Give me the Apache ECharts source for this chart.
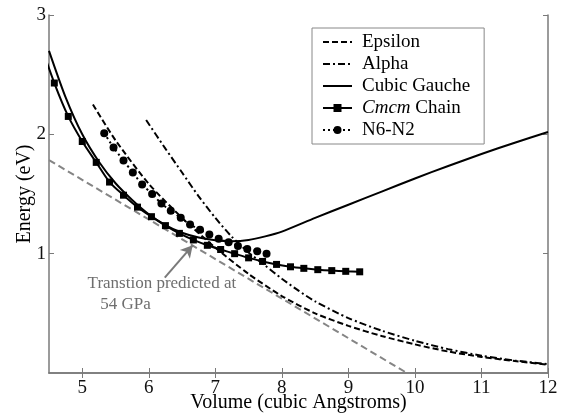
<!DOCTYPE html>
<html>
<head>
<meta charset="utf-8">
<script src="https://cdn.jsdelivr.net/npm/echarts@6/dist/echarts.min.js"></script>
<style>
  html, body { margin: 0; padding: 0; background: #fff; }
  #chart { width: 561px; height: 414px; }
</style>
</head>
<body>
<div id="chart"></div>
<script>
// tick labels
var xTicks = [5, 6, 7, 8, 9, 10, 11, 12]
var yTicks = [1, 2, 3]

// Epsilon
var epsVol = [5.16, 5.5, 6.0, 6.5, 7.0, 7.5, 8.0, 8.5, 9.0, 9.5, 10.0, 10.5, 11.0, 11.5, 12.0]
var epsEnergy = [2.25, 1.95, 1.585, 1.30, 1.05, 0.83, 0.645, 0.50, 0.395, 0.31, 0.24, 0.18, 0.135, 0.10, 0.07]

// Alpha
var alphaVol = [5.96, 6.25, 6.5, 6.75, 7.0, 7.25, 7.5, 7.75, 8.0, 8.25, 8.5, 9.0, 9.5, 10.0, 10.5, 11.0, 11.5, 12.0]
var alphaEnergy = [2.12, 1.88, 1.68, 1.48, 1.30, 1.14, 1.01, 0.90, 0.79, 0.69, 0.60, 0.46, 0.355, 0.27, 0.20, 0.145, 0.105, 0.075]

// Cubic Gauche
var gaucheVol = [4.5, 4.75, 5.0, 5.25, 5.5, 5.75, 6.0, 6.25, 6.5, 6.75, 7.0, 7.25, 7.5, 7.75, 8.0, 8.5, 9.0, 9.5, 10.0, 10.5, 11.0, 11.5, 12.0]
var gaucheEnergy = [2.70, 2.31, 2.0, 1.77, 1.59, 1.45, 1.33, 1.24, 1.175, 1.135, 1.112, 1.105, 1.115, 1.145, 1.185, 1.30, 1.41, 1.52, 1.63, 1.735, 1.835, 1.93, 2.02]

// Cmcm Chain
var cmcmVol = [4.37, 4.58, 4.79, 5.0, 5.21, 5.41, 5.62, 5.83, 6.04, 6.25, 6.46, 6.67, 6.88, 7.08, 7.29, 7.5, 7.71, 7.92, 8.13, 8.33, 8.54, 8.75, 8.96, 9.17]
var cmcmEnergy = [2.76, 2.43, 2.15, 1.94, 1.765, 1.60, 1.49, 1.39, 1.31, 1.235, 1.17, 1.115, 1.07, 1.035, 1.0, 0.965, 0.935, 0.91, 0.89, 0.877, 0.866, 0.858, 0.852, 0.848]

// N6-N2
var n6Vol = [5.33, 5.47, 5.62, 5.76, 5.90, 6.05, 6.19, 6.33, 6.48, 6.62, 6.77, 6.91, 7.05, 7.20, 7.34, 7.48, 7.63, 7.77]
var n6Energy = [2.01, 1.89, 1.78, 1.68, 1.58, 1.50, 1.42, 1.36, 1.30, 1.245, 1.20, 1.16, 1.125, 1.095, 1.065, 1.04, 1.02, 1.0]

// common tangent
var tangentVol = [4.5, 9.88]
var tangentEnergy = [1.784, 0]

// annotation
var noteText = 'Transtion predicted at\n   54 GPa'
var notePos = [5.08, 0.66]
var arrowFrom = [6.24, 0.80]
var arrowTo = [6.66, 1.07]

var FONT = '"Liberation Serif", "DejaVu Serif", serif'

function zip(xs, ys) {
  var out = []
  for (var i = 0; i < xs.length; i++) {
    out.push([xs[i], ys[i]])
  }
  return out
}

function lineSeries(name, xs, ys, dash, symbol, size) {
  return {
    name: name,
    type: 'line',
    data: zip(xs, ys),
    smooth: 0.25,
    symbol: symbol || 'none',
    symbolSize: size || 0,
    showSymbol: !!symbol,
    clip: true,
    animation: false,
    itemStyle: { color: '#000' },
    lineStyle: { color: '#000', width: 2, type: dash }
  }
}

// legend entries without a marker
var noMarker = { color: 'rgba(0,0,0,0)', borderWidth: 0 }

var chart = echarts.init(document.getElementById('chart'))

chart.setOption({
  backgroundColor: '#fff',
  animation: false,
  grid: { left: 49, right: 13, top: 15, bottom: 41, outerBoundsMode: 'none', containLabel: false },
  legend: {
    data: [
      { name: 'Epsilon', itemStyle: noMarker },
      { name: 'Alpha', itemStyle: noMarker },
      { name: 'Cubic Gauche', itemStyle: noMarker },
      { name: 'Cmcm Chain' },
      { name: 'N6-N2' }
    ],
    orient: 'vertical',
    left: 312,
    top: 28,
    padding: [3, 14, 3, 10],
    itemGap: 0,
    itemWidth: 29,
    itemHeight: 10,
    borderColor: '#888',
    borderWidth: 1,
    backgroundColor: '#fff',
    formatter: function(name) {
      return name === 'Cmcm Chain' ? '{i|Cmcm} Chain' : name
    },
    textStyle: {
      fontFamily: FONT,
      fontSize: 19,
      lineHeight: 22,
      color: '#000',
      padding: [0, 0, 0, 5],
      rich: {
        i: { fontFamily: FONT, fontSize: 19, fontStyle: 'italic', color: '#000' }
      }
    }
  },
  xAxis: [{
    type: 'value',
    min: 4.5,
    max: 12,
    name: 'Volume (cubic Angstroms)',
    nameLocation: 'middle',
    nameGap: 20,
    nameMoveOverlap: false,
    nameTextStyle: { fontFamily: FONT, fontSize: 20, color: '#000' },
    axisLine: { lineStyle: { color: '#7a7a7a', width: 1.5 } },
    axisTick: { inside: true, length: 5, customValues: xTicks, lineStyle: { color: '#7a7a7a' } },
    axisLabel: { customValues: xTicks, fontFamily: FONT, fontSize: 19, color: '#111', margin: 6 },
    splitLine: { show: false }
  }, {
    type: 'value',
    position: 'top',
    min: 4.5,
    max: 12,
    axisLine: { show: true, lineStyle: { color: '#7a7a7a', width: 1.5 } },
    axisTick: { inside: true, length: 5, customValues: xTicks, lineStyle: { color: '#7a7a7a' } },
    axisLabel: { show: false },
    splitLine: { show: false }
  }],
  yAxis: [{
    type: 'value',
    min: 0,
    max: 3,
    interval: 1,
    name: 'Energy (eV)',
    nameLocation: 'middle',
    nameGap: 14,
    nameMoveOverlap: false,
    nameTextStyle: { fontFamily: FONT, fontSize: 20, color: '#000' },
    axisLine: { show: true, lineStyle: { color: '#7a7a7a', width: 1.5 } },
    axisTick: { inside: true, length: 5, customValues: yTicks, lineStyle: { color: '#7a7a7a' } },
    axisLabel: { customValues: yTicks, fontFamily: FONT, fontSize: 19, color: '#111', margin: 3 },
    splitLine: { show: false }
  }, {
    type: 'value',
    position: 'right',
    min: 0,
    max: 3,
    interval: 1,
    axisLine: { show: true, lineStyle: { color: '#7a7a7a', width: 1.5 } },
    axisTick: { inside: true, length: 5, customValues: yTicks, lineStyle: { color: '#7a7a7a' } },
    axisLabel: { show: false },
    splitLine: { show: false }
  }],
  series: [
    {
      name: 'tangent',
      type: 'line',
      data: zip(tangentVol, tangentEnergy),
      symbol: 'none',
      clip: true,
      lineStyle: { color: '#858585', width: 2, type: [7, 4] },
      markLine: {
        silent: true,
        symbol: ['none', 'arrow'],
        symbolSize: [10, 12],
        label: { show: false },
        lineStyle: { color: '#7a7a7a', width: 2, type: 'solid' },
        data: [[{ coord: arrowFrom }, { coord: arrowTo }]]
      },
      markPoint: {
        silent: true,
        symbolSize: 0,
        data: [{ coord: notePos }],
        label: {
          show: true,
          position: 'inside',
          align: 'left',
          verticalAlign: 'middle',
          formatter: noteText,
          fontFamily: FONT,
          fontSize: 17,
          lineHeight: 21,
          color: '#6e6e6e'
        }
      }
    },
    lineSeries('Epsilon', epsVol, epsEnergy, [6, 3]),
    lineSeries('Alpha', alphaVol, alphaEnergy, [7, 3, 2, 3]),
    lineSeries('Cubic Gauche', gaucheVol, gaucheEnergy, 'solid'),
    lineSeries('Cmcm Chain', cmcmVol, cmcmEnergy, 'solid', 'rect', 7),
    lineSeries('N6-N2', n6Vol, n6Energy, [2, 3], 'circle', 8)
  ]
})
</script>
</body>
</html>
